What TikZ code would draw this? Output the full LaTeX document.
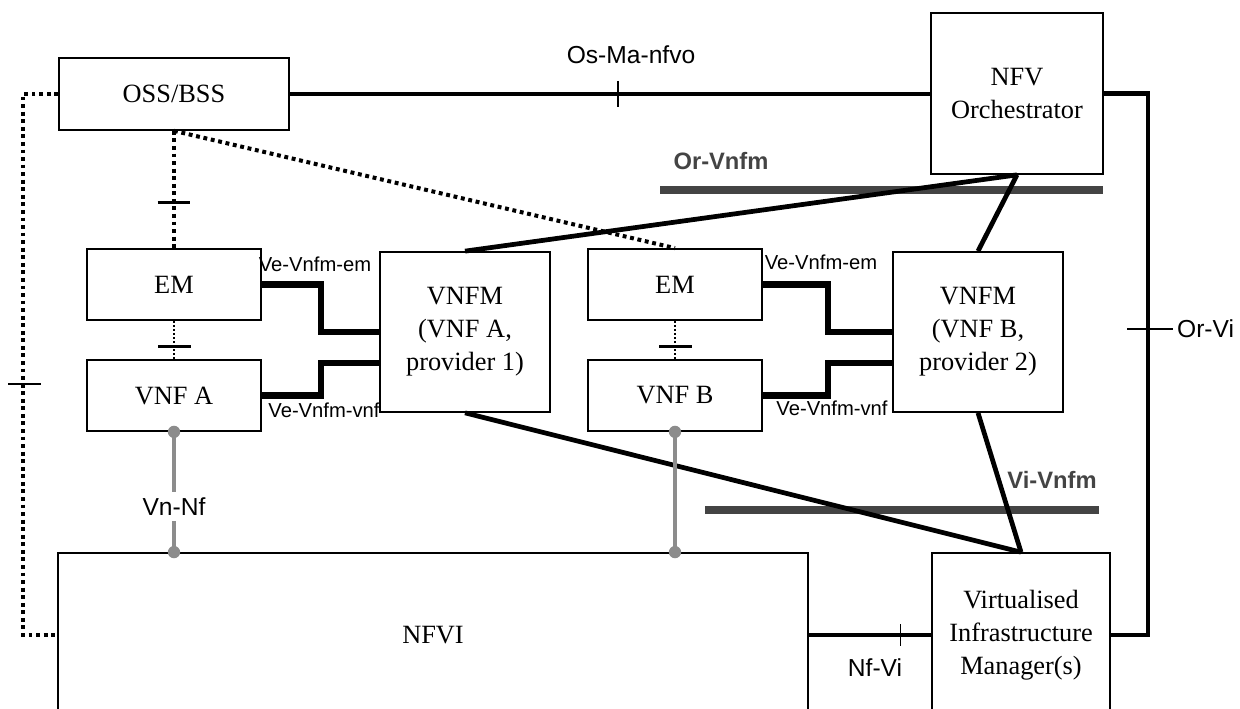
\documentclass[tikz,border=0pt]{standalone}
\usepackage{fontspec}
\setmainfont{Liberation Serif}
\setsansfont{Liberation Sans}
\usetikzlibrary{positioning}

\definecolor{bargray}{HTML}{444444}
\definecolor{vngray}{HTML}{8C8C8C}

\begin{document}
\begin{tikzpicture}[x=0.02cm, y=-0.02cm,
    box/.style={draw, line width=1pt, inner sep=0pt, align=center, font=\fontsize{15}{18.7}\selectfont},
    link/.style={line width=2.7pt},
    velink/.style={line width=3.5pt},
    mgmt/.style={line width=2.3pt, dash pattern=on 2.2pt off 2.1pt},
    thindot/.style={line width=1.1pt, dash pattern=on 1.1pt off 1.2pt},
    tickmark/.style={line width=1pt},
    refbar/.style={line width=4.5pt, bargray},
    vnlink/.style={line width=2pt, vngray},
    iflabel/.style={font=\sffamily\fontsize{14}{16}\selectfont},
    velabel/.style={font=\sffamily\fontsize{11.5}{13}\selectfont, inner sep=1pt},
    barlabel/.style={font=\sffamily\bfseries\fontsize{13.5}{16}\selectfont, text=bargray}]

    \clip (0,0) rectangle (1240,709);

    %% blocks
    \node[box, minimum width=4.6cm, minimum height=1.44cm] (oss) at (174,94) {OSS/BSS};
    \node[box, minimum width=3.44cm, minimum height=3.22cm] (nfvo) at (1017,93.5) {NFV\\Orchestrator};
    \foreach \s/\cx in {A/174,B/675} {
        \node[box, minimum width=3.48cm, minimum height=1.42cm] (em\s) at (\cx,284.5) {EM};
        \node[box, minimum width=3.48cm, minimum height=1.42cm] (vnf\s) at (\cx,395.5) {VNF \s};
    }
    \foreach \s/\cx/\p in {A/465/1,B/978/2} {
        \node[box, minimum width=3.4cm, minimum height=3.2cm] (vnfm\s) at (\cx,332) {VNFM\\(VNF \s,\\provider \p)};
    }
    \node[box, minimum width=15cm, minimum height=3.28cm] (nfvi) at (433,635) {NFVI};
    \node[box, minimum width=3.56cm, minimum height=3.28cm] (vim) at (1021,635) {Virtualised\\Infrastructure\\Manager(s)};

    %% reference point bars
    \draw[refbar] (660,190) -- (1103,190);
    \node[barlabel] (orvnfm) at (721,161) {Or-Vnfm};
    \draw[refbar] (705,510) -- (1099,510);
    \node[barlabel] (vivnfm) at (1052,480) {Vi-Vnfm};

    %% Os-Ma-nfvo
    \draw[link] (oss.east) -- (oss.east -| nfvo.west) coordinate[pos=0.513] (osma);
    \draw[tickmark] ([yshift=0.26cm]osma) -- ([yshift=-0.26cm]osma);
    \node[iflabel] (osmalabel) at (631,55) {Os-Ma-nfvo};

    %% Or-Vi
    \coordinate (orvi) at (1148,329);
    \draw[link] (nfvo.east) -| (orvi) |- (vim.east);
    \draw[tickmark] ([xshift=-0.42cm]orvi) -- ([xshift=0.5cm]orvi);
    \node[iflabel, anchor=west, inner sep=1pt] (orvilabel) at ([xshift=0.54cm]orvi) {Or-Vi};

    %% Or-Vnfm and Vi-Vnfm
    \foreach \s in {A,B} {
        \draw[link] (vnfm\s.north) -- (nfvo.south);
        \draw[link] (vnfm\s.south) -- (vim.north);
    }

    %% Ve-Vnfm
    \foreach \s/\dx in {A/59,B/65} {
        \draw[velink] (em\s.east) -- ++(\dx,0) |- (vnfm\s.west);
        \draw[velink] (vnf\s.east) -- ++(\dx,0) |- ([yshift=-0.62cm]vnfm\s.west);
    }
    \node[velabel] (veemA) at (315,264) {Ve-Vnfm-em};
    \node[velabel] (vevnfA) at (324,410) {Ve-Vnfm-vnf};
    \node[velabel] (veemB) at (821,262) {Ve-Vnfm-em};
    \node[velabel] (vevnfB) at (832,408) {Ve-Vnfm-vnf};

    %% OSS/BSS management links
    \coordinate (leftdot) at (23,384);
    \draw[mgmt] (oss.west) -| (leftdot) |- (nfvi.west);
    \draw[line width=1.4pt] ([xshift=-0.3cm]leftdot) -- ([xshift=0.36cm]leftdot);
    \draw[mgmt] (oss.south) -- (emA.north) coordinate[pos=0.61] (ossem);
    \draw[line width=1.4pt] ([xshift=-0.33cm]ossem) -- ([xshift=0.33cm]ossem);
    \draw[mgmt] (oss.south) -- (emB.north);

    %% EM - VNF
    \foreach \s in {A,B} {
        \draw[thindot] (em\s.south) -- (vnf\s.north) coordinate[pos=0.67] (emvnf\s);
        \draw[line width=1.4pt] ([xshift=-0.32cm]emvnf\s) -- ([xshift=0.34cm]emvnf\s);
    }

    %% Vn-Nf
    \draw[vnlink] (vnfA.south) -- (vnfA.south |- nfvi.north) node[iflabel, text=black, fill=white, pos=0.62] (vnnf) {Vn-Nf};
    \draw[vnlink] (vnfB.south) -- (vnfB.south |- nfvi.north);
    \foreach \s in {A,B} {
        \fill[vngray] (vnf\s.south) circle (3.5pt);
        \fill[vngray] (vnf\s.south |- nfvi.north) circle (3.5pt);
    }

    %% Nf-Vi
    \draw[link] (nfvi.east) -- (vim.west) coordinate[pos=0.75] (nfvi2vim);
    \draw[tickmark] ([yshift=0.22cm]nfvi2vim) -- ([yshift=-0.22cm]nfvi2vim);
    \node[iflabel] (nfvilabel) at (875,668) {Nf-Vi};
\end{tikzpicture}
\end{document}
